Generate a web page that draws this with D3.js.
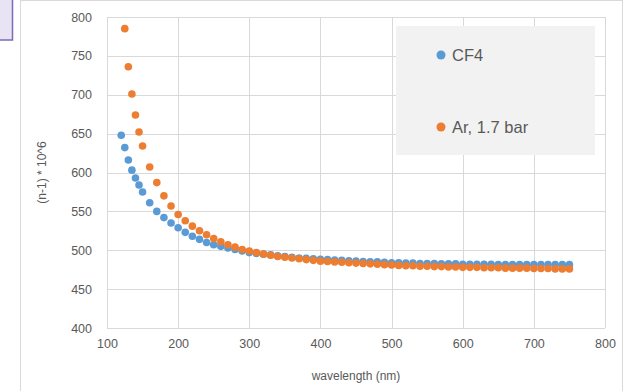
<!DOCTYPE html>
<html>
<head>
<meta charset="utf-8">
<script src="https://cdn.jsdelivr.net/npm/d3@7"></script>
<style>
  body { margin: 0; background: #fff; }
  svg { display: block; }
</style>
</head>
<body>
<div id="chart"></div>
<script>
// wavelengths (nm) and (n-1)*10^6 values
const cf4Wavelength = [120, 125, 130, 135, 140, 145, 150, 160, 170, 180, 190, 200, 210, 220, 230, 240, 250, 260, 270, 280, 290, 300,
  310, 320, 330, 340, 350, 360, 370, 380, 390, 400, 410, 420, 430, 440, 450, 460, 470, 480, 490, 500,
  510, 520, 530, 540, 550, 560, 570, 580, 590, 600, 610, 620, 630, 640, 650, 660, 670, 680, 690, 700,
  710, 720, 730, 740, 750];
const cf4Values = [648, 632, 616, 603, 593, 584, 575, 561, 550, 542, 535, 529, 523, 518, 514, 510, 507, 505, 503, 501, 499, 497,
  496, 495, 494, 493, 492, 491, 490, 489.5, 489, 488.5, 488, 487.5, 487, 486.5, 486, 485.5, 485, 485, 484.5, 484,
  484, 483.5, 483.5, 483, 483, 483, 482.5, 482.5, 482.5, 482, 482, 482, 482, 482, 481.5, 481.5, 481.5, 481.5, 481.5, 481.5,
  481.5, 481.5, 481.5, 481.5, 481.5];

const arWavelength = [125, 130, 135, 140, 145, 150, 160, 170, 180, 190, 200, 210, 220, 230, 240, 250, 260, 270, 280, 290, 300,
  310, 320, 330, 340, 350, 360, 370, 380, 390, 400, 410, 420, 430, 440, 450, 460, 470, 480, 490, 500,
  510, 520, 530, 540, 550, 560, 570, 580, 590, 600, 610, 620, 630, 640, 650, 660, 670, 680, 690, 700,
  710, 720, 730, 740, 750];
const arValues = [785, 736, 701, 674, 652, 634, 607, 587, 570, 557, 546, 538, 531, 525, 520, 515, 511, 507, 504, 501, 499,
  497, 495, 493.5, 492, 491, 490, 489, 488, 487, 486, 485.5, 485, 484.5, 484, 483.5, 483, 482.5, 482, 481.5, 481,
  480.5, 480, 480, 479.5, 479.5, 479, 479, 478.5, 478.5, 478, 478, 478, 477.5, 477.5, 477.5, 477, 477, 477, 477, 476.5,
  476.5, 476.5, 476, 476, 476];

const seriesNames = ["CF4", "Ar, 1.7 bar"];
const seriesColors = ["#5b9bd5", "#ed7d31"];
const xTicks = [100, 200, 300, 400, 500, 600, 700, 800];
const yTicks = [400, 450, 500, 550, 600, 650, 700, 750, 800];

const width = 627, height = 391;
const margin = { top: 17, right: 22, bottom: 63, left: 107 };
const textColor = "#595959";
const gridColor = "#d9d9d9";
const font = "'Liberation Sans', Arial, sans-serif";

const svg = d3.select("#chart").append("svg")
  .attr("width", width)
  .attr("height", height);

// chart frame and the stray purple box in the corner
svg.append("rect")
  .attr("x", 20.5).attr("y", 0.5)
  .attr("width", 602).attr("height", 400)
  .attr("fill", "#fff")
  .attr("stroke", "#d9d9d9");
svg.append("rect")
  .attr("x", -2).attr("y", -2)
  .attr("width", 14.5).attr("height", 42)
  .attr("fill", "#e8e4f4")
  .attr("stroke", "#7b6bb8")
  .attr("stroke-width", 1.5);

const x = d3.scaleLinear().domain([100, 800]).range([margin.left, width - margin.right]);
const y = d3.scaleLinear().domain([400, 800]).range([height - margin.bottom, margin.top]);

// gridlines
svg.append("g")
  .selectAll("line")
  .data(yTicks)
  .enter()
  .append("line")
  .attr("x1", x(100)).attr("x2", x(800))
  .attr("y1", d => Math.round(y(d)) + 0.5).attr("y2", d => Math.round(y(d)) + 0.5)
  .attr("stroke", gridColor);
svg.append("g")
  .selectAll("line")
  .data(xTicks)
  .enter()
  .append("line")
  .attr("y1", y(400)).attr("y2", y(800))
  .attr("x1", d => Math.round(x(d)) + 0.5).attr("x2", d => Math.round(x(d)) + 0.5)
  .attr("stroke", gridColor);

// axes, labels only
const xAxis = svg.append("g")
  .attr("transform", `translate(0, ${y(400)})`)
  .call(d3.axisBottom(x).tickValues(xTicks).tickSize(0).tickPadding(11));
const yAxis = svg.append("g")
  .attr("transform", `translate(${x(100)}, 0)`)
  .call(d3.axisLeft(y).tickValues(yTicks).tickSize(0).tickPadding(15));
[xAxis, yAxis].forEach(a => {
  a.select(".domain").remove();
  a.selectAll("text")
    .attr("fill", textColor)
    .attr("font-size", "12.5px")
    .attr("font-family", font);
});

// axis titles
svg.append("text")
  .text("wavelength (nm)")
  .attr("x", (x(100) + x(800)) / 2)
  .attr("y", 380)
  .attr("text-anchor", "middle")
  .attr("font-size", "12px")
  .attr("font-family", font)
  .attr("fill", textColor);
svg.append("text")
  .text("(n-1) * 10^6")
  .attr("transform", `translate(46, ${(y(400) + y(800)) / 2}) rotate(-90)`)
  .attr("text-anchor", "middle")
  .attr("font-size", "12px")
  .attr("font-family", font)
  .attr("fill", textColor);

// points
const series = [
  cf4Wavelength.map((w, i) => ({ w: w, v: cf4Values[i] })),
  arWavelength.map((w, i) => ({ w: w, v: arValues[i] }))
];
series.forEach((pts, s) => {
  svg.append("g")
    .selectAll("circle")
    .data(pts)
    .enter()
    .append("circle")
    .attr("cx", d => x(d.w))
    .attr("cy", d => y(d.v))
    .attr("r", 3.8)
    .attr("fill", seriesColors[s]);
});

// legend
const legend = svg.append("g");
legend.append("rect")
  .attr("x", 396).attr("y", 26)
  .attr("width", 199).attr("height", 129)
  .attr("fill", "#f2f2f2");
const legendY = [55, 127];
seriesNames.forEach((name, i) => {
  legend.append("circle")
    .attr("cx", 441).attr("cy", legendY[i])
    .attr("r", 4.5)
    .attr("fill", seriesColors[i]);
  legend.append("text")
    .text(name)
    .attr("x", 452).attr("y", legendY[i] + 6)
    .attr("font-size", "16.5px")
    .attr("font-family", font)
    .attr("fill", textColor);
});
</script>
</body>
</html>
